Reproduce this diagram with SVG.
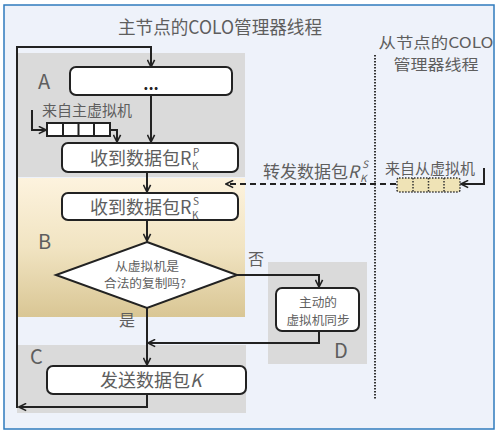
<svg xmlns="http://www.w3.org/2000/svg" width="500" height="433" viewBox="0 0 500 433">
<defs>
<linearGradient id="gB" x1="0" y1="0" x2="0" y2="1">
<stop offset="0" stop-color="#fdf3de"/>
<stop offset="0.5" stop-color="#f1e4c2"/>
<stop offset="1" stop-color="#d9c694"/>
</linearGradient>
<marker id="ah" viewBox="0 0 10 10" refX="9" refY="5" markerWidth="9" markerHeight="9" markerUnits="userSpaceOnUse" orient="auto">
<polyline points="1,1 9,5 1,9" fill="none" stroke="#222" stroke-width="1.8"/>
</marker>
</defs>
<style>
text{font-family:"Noto Sans CJK SC","Liberation Sans",sans-serif;fill:#5e5e5e}
.box{fill:#fff;stroke:#222;stroke-width:2}
.ln{fill:none;stroke:#222;stroke-width:2}
.region{fill:#dadada}
.big{font-size:20px}
.t18{font-size:18px}
.t15{font-size:15px}
.t13{font-size:13px}
.t12{font-size:12px}
.s{font-size:10px}
</style>
<rect x="4" y="5" width="490" height="424" fill="#eef2fa" stroke="#2f7bbd" stroke-width="1.5"/>

<g id="regionA"><rect class="region" x="17" y="53" width="228" height="124"/><text class="big" x="38" y="89">A</text></g>
<g id="regionB"><rect x="17" y="178" width="228" height="139" fill="url(#gB)"/><text class="big" x="38" y="249">B</text></g>
<g id="regionC"><rect class="region" x="17" y="345" width="229" height="68"/><text class="big" x="30" y="364">C</text></g>
<g id="regionD"><rect class="region" x="268" y="262" width="99" height="102"/><text class="big" x="334" y="358">D</text></g>

<g id="titles">
<text font-size="18" x="220" y="34" text-anchor="middle" textLength="204" lengthAdjust="spacingAndGlyphs">主节点的COLO管理器线程</text>
<text font-size="15" x="436" y="48" text-anchor="middle" textLength="115" lengthAdjust="spacingAndGlyphs">从节点的COLO</text>
<text font-size="15" x="436" y="70" text-anchor="middle" textLength="85" lengthAdjust="spacingAndGlyphs">管理器线程</text>
</g>

<line x1="375" y1="55" x2="375" y2="400" stroke="#333" stroke-width="2" stroke-dasharray="1.5,1.5"/>

<g id="connectors">
<polyline class="ln" points="147,394 147,407 19,407" marker-end="url(#ah)"/>
<polyline class="ln" points="17,408 17,47 151,47 151,67" marker-end="url(#ah)"/>
<line class="ln" x1="151" y1="95" x2="151" y2="142" marker-end="url(#ah)"/>
<polyline class="ln" points="32,110 32,130 46,130" marker-end="url(#ah)"/>
<polyline class="ln" points="110,130 117,130 117,142" marker-end="url(#ah)"/>
<line class="ln" x1="147" y1="172" x2="147" y2="192" marker-end="url(#ah)"/>
<line class="ln" x1="147" y1="220" x2="147" y2="241" marker-end="url(#ah)"/>
<polyline class="ln" points="237,275 319,275 319,287" marker-end="url(#ah)"/>
<polyline class="ln" points="319,331 319,343 148,343" marker-end="url(#ah)"/>
<line class="ln" x1="147" y1="308" x2="147" y2="365" marker-end="url(#ah)"/>
<polyline class="ln" points="484,168 484,184 461,184" marker-end="url(#ah)"/>
<line class="ln" x1="396" y1="184" x2="226" y2="184" stroke-dasharray="6,4" marker-end="url(#ah)"/>
<text font-size="17" x="263" y="178">转发数据包<tspan font-style="italic">R</tspan></text>
<text class="s" x="360" y="182" font-style="italic">K</text>
<text class="s" x="362" y="168" font-style="italic">S</text>
<text font-size="16" x="248" y="265">否</text>
<text font-size="16" x="119" y="326">是</text>
</g>

<g id="box1"><rect class="box" x="70" y="67" width="162" height="28" rx="6"/><text x="151" y="90" font-size="16" text-anchor="middle" style="fill:#222;font-weight:bold">...</text></g>

<g id="queueA">
<text class="t15" x="42" y="116">来自主虚拟机</text>
<rect x="47" y="123" width="63" height="13" fill="#fff" stroke="#222" stroke-width="2"/>
<path d="M63 123V136M78.5 123V136M94 123V136" stroke="#222" stroke-width="2"/>
</g>

<g id="box2"><rect class="box" x="62" y="143" width="176" height="29" rx="6"/><text class="t18" x="90" y="165">收到数据包R</text><text class="s" x="192" y="170">K</text><text class="s" x="193" y="156">P</text></g>

<g id="box3"><rect class="box" x="62" y="193" width="176" height="27" rx="6"/><text class="t18" x="90" y="214">收到数据包R</text><text class="s" x="192" y="219">K</text><text class="s" x="193" y="205">S</text></g>

<g id="diamond"><polygon points="147,242 237,275 147,308 56,275" fill="#fff" stroke="#222" stroke-width="2"/>
<text class="t12" x="147" y="271" text-anchor="middle" textLength="64" lengthAdjust="spacingAndGlyphs">从虚拟机是</text>
<text class="t12" x="145" y="288" text-anchor="middle" textLength="82" lengthAdjust="spacingAndGlyphs">合法的复制吗?</text></g>

<g id="boxD"><rect class="box" x="276" y="288" width="83" height="43" rx="6"/>
<text class="t12" x="318" y="307" text-anchor="middle" textLength="38" lengthAdjust="spacingAndGlyphs">主动的</text>
<text class="t12" x="318" y="325" text-anchor="middle" textLength="63" lengthAdjust="spacingAndGlyphs">虚拟机同步</text></g>

<g id="boxC"><rect class="box" x="47" y="366" width="199" height="28" rx="6"/><text class="t18" x="100" y="387">发送数据包<tspan font-style="italic">K</tspan></text></g>

<g id="queueS">
<text class="t15" x="385" y="174">来自从虚拟机</text>
<rect x="397" y="178" width="63" height="14" rx="2" fill="#efe3b6" stroke="#333" stroke-width="1.5" stroke-dasharray="1.5,1.5"/>
<path d="M413 178V192M428.5 178V192M444 178V192" stroke="#333" stroke-width="1.5" stroke-dasharray="1.5,1.5"/>
</g>
</svg>
